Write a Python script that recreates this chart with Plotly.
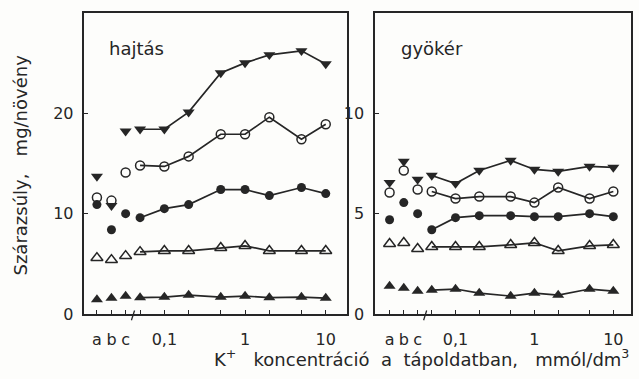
import plotly.graph_objects as go

# K+ concentration of the nutrient solution, mmol/dm3
conc = [0.05, 0.1, 0.2, 0.5, 1, 2, 5, 10]
controls = ["a", "b", "c"]

# Shoot (hajtás) dry weight, mg/plant: controls a,b,c then concentration series
shoot_tri_down_ctrl = [13.7, 10.8, 18.2]
shoot_tri_down = [18.4, 18.4, 20.1, 24.0, 25.0, 25.8, 26.2, 24.9]
shoot_circ_open_ctrl = [11.6, 11.3, 14.1]
shoot_circ_open = [14.8, 14.7, 15.7, 17.9, 17.9, 19.6, 17.4, 18.9]
shoot_circ_fill_ctrl = [10.9, 8.4, 10.0]
shoot_circ_fill = [9.6, 10.5, 10.9, 12.4, 12.4, 11.8, 12.6, 12.0]
shoot_tri_open_ctrl = [5.6, 5.4, 5.8]
shoot_tri_open = [6.2, 6.3, 6.3, 6.6, 6.8, 6.3, 6.3, 6.3]
shoot_tri_up_ctrl = [1.45, 1.6, 1.8]
shoot_tri_up = [1.65, 1.7, 1.9, 1.7, 1.8, 1.65, 1.7, 1.6]

# Root (gyökér) dry weight, mg/plant
root_tri_down_ctrl = [6.55, 7.6, 6.7]
root_tri_down = [6.9, 6.5, 7.15, 7.65, 7.2, 7.1, 7.35, 7.3]
root_circ_open_ctrl = [6.05, 7.15, 6.2]
root_circ_open = [6.1, 5.75, 5.85, 5.85, 5.55, 6.3, 5.75, 6.1]
root_circ_fill_ctrl = [4.7, 5.55, 5.0]
root_circ_fill = [4.2, 4.8, 4.9, 4.9, 4.85, 4.85, 5.0, 4.85]
root_tri_open_ctrl = [3.5, 3.55, 3.25]
root_tri_open = [3.35, 3.35, 3.35, 3.45, 3.55, 3.15, 3.4, 3.45]
root_tri_up_ctrl = [1.4, 1.3, 1.15]
root_tri_up = [1.2, 1.25, 1.05, 0.9, 1.05, 0.95, 1.25, 1.15]

# tick labels for the shared concentration axis
conc_ticktext = ["", "0,1", "", "", "1", "", "", "10"]

INK = "#262626"
FONT = "DejaVu Sans"

# place of the three control treatments left of the log scale
control_x = [0.0146, 0.0221, 0.0331]

fig = go.Figure()

series_styles = [
    ("triangle-down", INK, 10.5, 0),
    ("circle-open", INK, 9, 1.5),
    ("circle", INK, 9, 0),
    ("triangle-up-open", INK, 10.5, 1.5),
    ("triangle-up", INK, 10.5, 0),
]

panels = [
    ("x", "y", [
        (shoot_tri_down_ctrl, shoot_tri_down),
        (shoot_circ_open_ctrl, shoot_circ_open),
        (shoot_circ_fill_ctrl, shoot_circ_fill),
        (shoot_tri_open_ctrl, shoot_tri_open),
        (shoot_tri_up_ctrl, shoot_tri_up),
    ]),
    ("x2", "y2", [
        (root_tri_down_ctrl, root_tri_down),
        (root_circ_open_ctrl, root_circ_open),
        (root_circ_fill_ctrl, root_circ_fill),
        (root_tri_open_ctrl, root_tri_open),
        (root_tri_up_ctrl, root_tri_up),
    ]),
]

for xa, ya, groups in panels:
    for (ctrl, vals), (sym, col, size, lw) in zip(groups, series_styles):
        marker = dict(symbol=sym, size=size, color=col,
                      line=dict(color=col, width=lw))
        fig.add_trace(go.Scatter(
            x=control_x, y=ctrl, mode="markers", marker=marker,
            xaxis=xa, yaxis=ya, showlegend=False, text=controls,
            hoverinfo="text+y"))
        fig.add_trace(go.Scatter(
            x=conc, y=vals, mode="lines+markers", marker=marker,
            line=dict(color=INK, width=1.7),
            xaxis=xa, yaxis=ya, showlegend=False))

tickvals = control_x + conc
ticktext = controls + conc_ticktext

axis_common = dict(
    showline=True, linecolor=INK, linewidth=1.5, mirror=True,
    ticks="inside", ticklen=4, tickwidth=1.2, tickcolor=INK,
    showgrid=False, zeroline=False,
    tickfont=dict(family=FONT, size=16, color=INK),
)

fig.update_layout(
    width=639, height=379,
    margin=dict(l=0, r=0, t=0, b=0),
    paper_bgcolor="#fdfdfb",
    plot_bgcolor="#fdfdfb",
    xaxis=dict(axis_common, type="log", range=[-1.99, 1.26],
               domain=[0.1322, 0.5426], tickvals=tickvals,
               ticktext=ticktext, anchor="y", ticklabelstandoff=10),
    yaxis=dict(axis_common, range=[0, 30], domain=[0.1486, 0.9657],
               tickvals=[0, 10, 20], anchor="x", ticklabelstandoff=6),
    xaxis2=dict(axis_common, type="log", range=[-2.02, 1.22],
                domain=[0.5869, 0.987], tickvals=tickvals,
                ticktext=ticktext, anchor="y2", ticklabelstandoff=10),
    yaxis2=dict(axis_common, range=[0, 15], domain=[0.1486, 0.9657],
                tickvals=[0, 5, 10], anchor="x2", ticklabelstandoff=6),
)

# axis break marks between the controls and the concentration scale
for xd, yd, pos in [("x domain", "y domain", 0.185), ("x2 domain", "y2 domain", 0.196)]:
    fig.add_shape(type="line", xref=xd, yref=yd,
                  x0=pos - 0.006, y0=-0.02, x1=pos + 0.006, y1=0.012,
                  line=dict(color=INK, width=1.3))

label_font = dict(family=FONT, size=18, color=INK)
fig.add_annotation(text="hajtás", xref="x domain", yref="y domain",
                   x=0.085, y=0.88, xanchor="left", yanchor="middle",
                   showarrow=False, font=label_font)
fig.add_annotation(text="gyökér", xref="x2 domain", yref="y2 domain",
                   x=0.095, y=0.88, xanchor="left", yanchor="middle",
                   showarrow=False, font=label_font)
fig.add_annotation(text="Szárazsúly,   mg/növény", xref="paper", yref="paper",
                   x=21 / 639, y=1 - 170 / 379, textangle=-90,
                   xanchor="center", yanchor="middle", showarrow=False,
                   font=dict(family=FONT, size=18, color=INK))
fig.add_annotation(text="K<sup>+</sup>   koncentráció  a  tápoldatban,   mmól/dm<sup>3</sup>",
                   xref="paper", yref="paper",
                   x=421 / 639, y=1 - 368 / 379,
                   xanchor="center", yanchor="middle", showarrow=False,
                   font=dict(family=FONT, size=18, color=INK))

fig.write_html("out.html")
